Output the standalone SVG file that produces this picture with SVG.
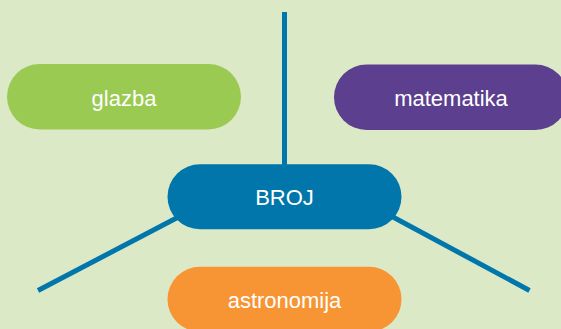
<svg xmlns="http://www.w3.org/2000/svg" width="561" height="329" viewBox="0 0 561 329">
<style>
.lbl{font-family:"Liberation Sans",Arial,sans-serif;font-size:22px;fill:#ffffff;text-anchor:middle}
.conn{stroke:#0076aa;stroke-width:5;fill:none;stroke-linecap:butt}
</style>
<rect width="561" height="329" fill="#dce9c7"/>
<g id="connectors">
<line class="conn" x1="284.5" y1="12" x2="284.5" y2="190"/>
<line class="conn" x1="38" y1="290.5" x2="230" y2="190"/>
<line class="conn" x1="529.5" y1="290.5" x2="340" y2="188.5"/>
</g>
<g id="glazba">
<rect x="7" y="64" width="234" height="65.5" rx="32.75" fill="#9aca52"/>
<text class="lbl" x="124" y="106">glazba</text>
</g>
<g id="matematika">
<rect x="334" y="64.5" width="234" height="65.5" rx="32.75" fill="#5c3f8e"/>
<text class="lbl" x="451" y="106">matematika</text>
</g>
<g id="broj">
<rect x="167.5" y="164.3" width="234" height="65" rx="32.5" fill="#0076aa"/>
<text class="lbl" x="284.5" y="205">BROJ</text>
</g>
<g id="astronomija">
<rect x="167.5" y="266.7" width="234" height="65" rx="32.5" fill="#f79434"/>
<text class="lbl" x="284.5" y="307.5">astronomija</text>
</g>
</svg>
